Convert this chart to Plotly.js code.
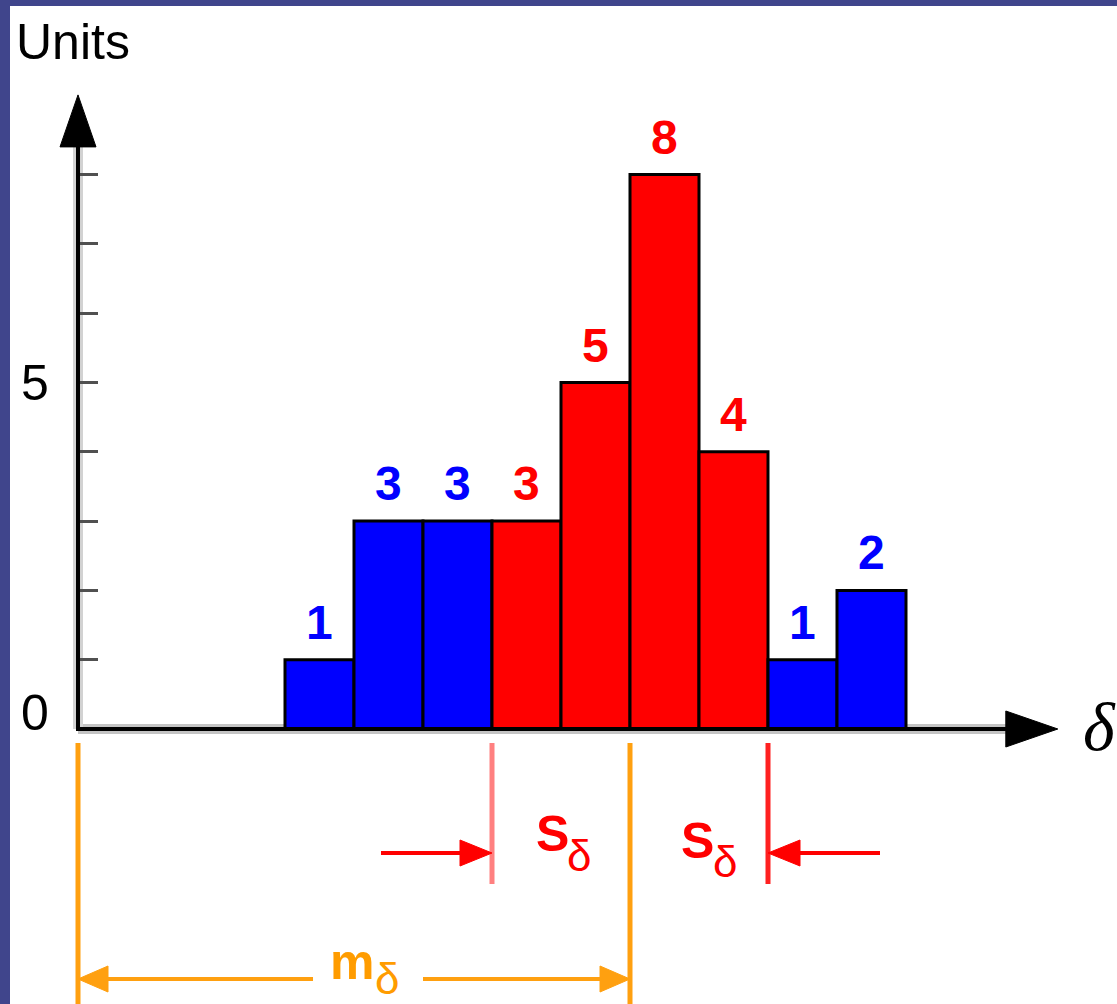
<!DOCTYPE html>
<html>
<head>
<meta charset="utf-8">
<script src="https://cdn.plot.ly/plotly-3.0.1.min.js"></script>
<style>
  html, body { margin: 0; padding: 0; width: 1117px; height: 1004px; overflow: hidden; background: #40458c; }
  #chart { position: absolute; left: 10px; top: 6px; width: 1107px; height: 998px; background: #fff; }
</style>
</head>
<body>
<div id="chart"></div>
<script>
// Histogram of deviations delta: counts per unit-wide bin
const binCenters = [3.5, 4.5, 5.5, 6.5, 7.5, 8.5, 9.5, 10.5, 11.5];
const counts = [1, 3, 3, 3, 5, 8, 4, 1, 2];

// Mean and spread of delta (bins inside mean ± spread are highlighted)
const meanDelta = 8;
const spreadDelta = 2;

// Y axis ticks and the labelled values
const yTickVals = [1, 2, 3, 4, 5, 6, 7, 8];
const yLabelVals = [0, 5];
const yLabelText = ['0', '5'];

const COLOR_IN = '#ff0000';
const COLOR_OUT = '#0000ff';
const ORANGE = '#ffa010';
const SANS = 'Liberation Sans, Arial, Helvetica, sans-serif';

// Canvas geometry: origin position and unit sizes in pixels
const W = 1107, H = 998;
const origin = { x: 68, y: 723 };
const unit = { x: 69, y: 69.3 };
const xRange = [-origin.x / unit.x, (W - origin.x) / unit.x];
const yRange = [-(H - origin.y) / unit.y, origin.y / unit.y];
const px = (p) => p / unit.x;   // horizontal pixels -> data units
const py = (p) => p / unit.y;   // vertical pixels -> data units

const barColors = binCenters.map(c =>
  (c > meanDelta - spreadDelta && c < meanDelta + spreadDelta) ? COLOR_IN : COLOR_OUT);

const bars = {
  type: 'bar',
  x: binCenters,
  y: counts,
  width: 1,
  marker: { color: barColors, line: { color: '#000', width: 3 } },
  hoverinfo: 'none',
  cliponaxis: false
};

// Axis extents
const xAxisEnd = 14.2;
const yAxisEnd = 9.15;
const axisHeadLen = 52, axisHeadHalf = 18;

function line(x0, y0, x1, y1, color, width, layer) {
  return { type: 'line', xref: 'x', yref: 'y', x0, y0, x1, y1,
           line: { color, width }, layer: layer || 'above' };
}

// Filled triangular head with its tip at (tx, ty), pointing along (dx, dy)
function head(tx, ty, dx, dy, lenPx, halfPx, color) {
  let bx, by, p1, p2;
  if (dx !== 0) {
    bx = tx - dx * px(lenPx); by = ty;
    p1 = [bx, by + py(halfPx)]; p2 = [bx, by - py(halfPx)];
  } else {
    bx = tx; by = ty - dy * py(lenPx);
    p1 = [bx - px(halfPx), by]; p2 = [bx + px(halfPx), by];
  }
  return { type: 'path', xref: 'x', yref: 'y', layer: 'above',
           path: `M${tx},${ty} L${p1[0]},${p1[1]} L${p2[0]},${p2[1]} Z`,
           fillcolor: color, line: { color, width: 1 } };
}

const lowEdge = meanDelta - spreadDelta;
const highEdge = meanDelta + spreadDelta;
const guideTop = -py(14);
const redBottom = -py(155);
const redArrowY = -py(124);
const orangeArrowY = -py(250);

const shapes = [
  // soft grey edging of the axes
  line(0, 0, xAxisEnd - px(axisHeadLen), 0, '#c4c4c4', 10, 'below'),
  line(0, 0, 0, yAxisEnd - py(axisHeadLen), '#d2d2d2', 10, 'below'),
  // axes
  line(-px(2), 0, xAxisEnd - px(axisHeadLen) + px(2), 0, '#000', 4),
  line(0, 0, 0, yAxisEnd - py(axisHeadLen) + py(2), '#000', 4),
  head(xAxisEnd, 0, 1, 0, axisHeadLen, axisHeadHalf, '#000'),
  head(0, yAxisEnd, 0, 1, axisHeadLen, axisHeadHalf, '#000'),

  // guides for zero and the mean
  line(0, guideTop, 0, yRange[0] - 1, ORANGE, 5),
  line(meanDelta, guideTop, meanDelta, yRange[0] - 1, ORANGE, 5),
  // guides for mean ± spread
  line(lowEdge, guideTop, lowEdge, redBottom, '#ff8080', 5),
  line(highEdge, guideTop, highEdge, redBottom, '#ff2020', 5),

  // spread arrows pointing at the guides
  line(lowEdge - px(111), redArrowY, lowEdge - px(20), redArrowY, '#ff0000', 4),
  head(lowEdge, redArrowY, 1, 0, 32, 13, '#ff0000'),
  line(highEdge + px(112), redArrowY, highEdge + px(20), redArrowY, '#ff0000', 4),
  head(highEdge, redArrowY, -1, 0, 32, 13, '#ff0000'),

  // mean arrow, split around its label
  line(px(20), orangeArrowY, 3.406, orangeArrowY, ORANGE, 4),
  head(0, orangeArrowY, -1, 0, 30, 13, ORANGE),
  line(5.0, orangeArrowY, meanDelta - px(20), orangeArrowY, ORANGE, 4),
  head(meanDelta, orangeArrowY, 1, 0, 30, 13, ORANGE)
];

const annotations = [];

// count labels above each bar
counts.forEach((v, i) => {
  annotations.push({
    x: binCenters[i], y: v, xref: 'x', yref: 'y',
    text: String(v), showarrow: false,
    xanchor: 'center', yanchor: 'bottom', yshift: 9,
    font: { family: SANS, size: 48, color: barColors[i], weight: 'bold' }
  });
});

// y tick labels
yLabelVals.forEach((v, i) => {
  annotations.push({
    x: px(-43), y: v + (v === 0 ? py(16) : 0), xref: 'x', yref: 'y',
    text: yLabelText[i], showarrow: false, xanchor: 'center', yanchor: 'middle',
    font: { family: SANS, size: 50, color: '#000' }
  });
});

// axis titles
annotations.push({
  x: px(-64), y: py(687), xref: 'x', yref: 'y', text: 'Units', showarrow: false,
  xanchor: 'left', yanchor: 'middle',
  font: { family: SANS, size: 50, color: '#000' }
});
annotations.push({
  x: px(1003), y: py(2), xref: 'x', yref: 'y', text: 'δ', showarrow: false,
  xanchor: 'left', yanchor: 'middle',
  font: { family: 'Liberation Serif, Times New Roman, serif', size: 68, color: '#000', style: 'italic' }
});

// spread and mean labels: main letter plus a lowered delta
function symbolLabel(letter, color, lx, ly, dx, dy) {
  annotations.push({
    x: px(lx), y: -py(ly), xref: 'x', yref: 'y', text: letter, showarrow: false,
    xanchor: 'center', yanchor: 'middle',
    font: { family: SANS, size: 50, color, weight: 'bold' }
  });
  annotations.push({
    x: px(dx), y: -py(dy), xref: 'x', yref: 'y', text: 'δ', showarrow: false,
    xanchor: 'center', yanchor: 'middle',
    font: { family: SANS, size: 44, color }
  });
}
symbolLabel('S', '#ff0000', 474.5, 105, 501.5, 126);
symbolLabel('S', '#ff0000', 619.5, 112, 647.5, 132);
symbolLabel('m', '#ff9c00', 274, 233, 309.5, 249);

const layout = {
  width: W, height: H,
  margin: { l: 0, r: 0, t: 0, b: 0, pad: 0 },
  paper_bgcolor: '#ffffff',
  plot_bgcolor: '#ffffff',
  showlegend: false,
  bargap: 0,
  xaxis: { range: xRange, visible: false, fixedrange: true },
  yaxis: {
    range: yRange, anchor: 'free', position: origin.x / W,
    showgrid: false, zeroline: false, showline: false, showticklabels: false,
    tickmode: 'array', tickvals: yTickVals,
    ticks: 'inside', ticklen: 19, tickwidth: 3, tickcolor: '#505050',
    fixedrange: true
  },
  shapes, annotations
};

Plotly.newPlot('chart', [bars], layout, { staticPlot: true, displayModeBar: false });
</script>
</body>
</html>
